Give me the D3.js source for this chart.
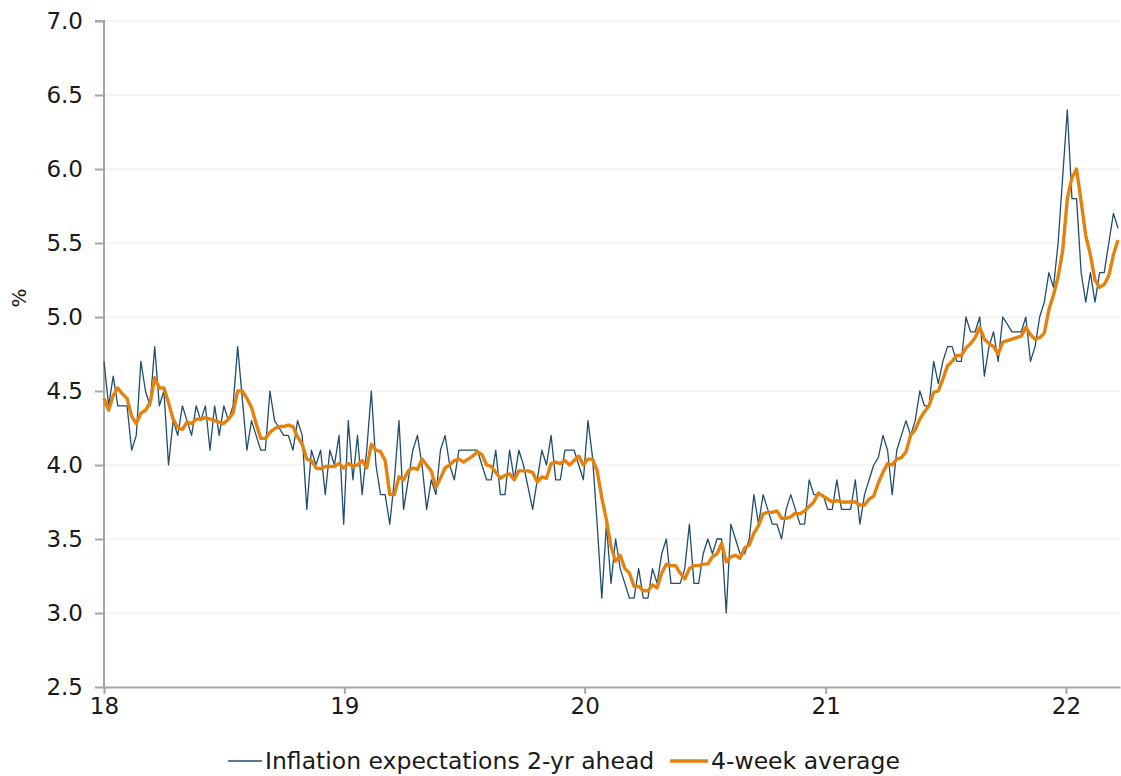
<!DOCTYPE html>
<html>
<head>
<meta charset="utf-8">
<script src="https://cdn.jsdelivr.net/npm/d3@7"></script>
<style>
    body { margin: 0; background: #fff; }
    svg { display: block; }
</style>
</head>
<body>
<script>
// Weekly survey, first week of 2018 onwards
var firstWeek = new Date(2018, 0, 1)

// Inflation expectations 2-yr ahead (%)
var expectations = [
    4.7, 4.4, 4.6, 4.4, 4.4, 4.4, 4.1, 4.2, 4.7, 4.5,
    4.4, 4.8, 4.4, 4.5, 4.0, 4.3, 4.2, 4.4, 4.3, 4.2,
    4.4, 4.3, 4.4, 4.1, 4.4, 4.2, 4.4, 4.3, 4.4, 4.8,
    4.45, 4.1, 4.3, 4.2, 4.1, 4.1, 4.5, 4.3, 4.25, 4.2,
    4.2, 4.1, 4.3, 4.2, 3.7, 4.1, 4.0, 4.1, 3.8, 4.1,
    4.0, 4.2, 3.6, 4.3, 3.9, 4.2, 3.8, 4.1, 4.5, 4.0,
    3.8, 3.8, 3.6, 3.9, 4.3, 3.7, 3.9, 4.1, 4.2, 4.0,
    3.7, 3.9, 3.8, 4.1, 4.2, 4.0, 3.9, 4.1, 4.1, 4.1,
    4.1, 4.1, 4.0, 3.9, 3.9, 4.1, 3.8, 3.8, 4.1, 3.9,
    4.1, 4.0, 3.85, 3.7, 3.9, 4.1, 4.0, 4.2, 3.9, 3.9,
    4.1, 4.1, 4.1, 4.0, 3.9, 4.3, 4.05, 3.6, 3.1, 3.6,
    3.2, 3.5, 3.3, 3.2, 3.1, 3.1, 3.3, 3.1, 3.1, 3.3,
    3.2, 3.4, 3.5, 3.2, 3.2, 3.2, 3.3, 3.6, 3.2, 3.2,
    3.4, 3.5, 3.4, 3.5, 3.5, 3.0, 3.6, 3.5, 3.4, 3.4,
    3.5, 3.8, 3.6, 3.8, 3.7, 3.6, 3.6, 3.5, 3.7, 3.8,
    3.7, 3.6, 3.6, 3.9, 3.8, 3.8, 3.8, 3.7, 3.7, 3.9,
    3.7, 3.7, 3.7, 3.9, 3.6, 3.8, 3.9, 4.0, 4.05, 4.2,
    4.1, 3.8, 4.1, 4.2, 4.3, 4.2, 4.3, 4.5, 4.4, 4.4,
    4.7, 4.55, 4.7, 4.8, 4.8, 4.7, 4.7, 5.0, 4.9, 4.9,
    5.0, 4.6, 4.8, 4.9, 4.7, 5.0, 4.95, 4.9, 4.9, 4.9,
    5.0, 4.7, 4.8, 5.0, 5.1, 5.3, 5.2, 5.5, 5.95, 6.4,
    5.8, 5.8, 5.3, 5.1, 5.3, 5.1, 5.3, 5.3, 5.5, 5.7,
    5.6
]

// 4-week average (%)
var average4w = [
    4.45, 4.37, 4.47, 4.52, 4.48, 4.45, 4.33, 4.28, 4.35, 4.37,
    4.42, 4.59, 4.52, 4.52, 4.42, 4.31, 4.25, 4.24, 4.29, 4.28,
    4.31, 4.31, 4.32, 4.31, 4.30, 4.29, 4.28, 4.31, 4.35, 4.50,
    4.50, 4.45, 4.39, 4.28, 4.18, 4.18, 4.22, 4.245, 4.26, 4.26,
    4.27, 4.26, 4.19, 4.14, 4.04, 4.03, 3.98, 3.975, 3.99, 3.99,
    3.99, 4.01, 3.98, 4.01, 3.99, 4.0, 4.03, 3.98, 4.14, 4.10,
    4.09, 4.03, 3.80, 3.80, 3.92, 3.90, 3.96, 3.98, 3.97, 4.04,
    4.0, 3.96, 3.85, 3.91, 3.98, 4.0, 4.03, 4.04, 4.02, 4.04,
    4.06, 4.09, 4.07, 4.00, 3.99, 3.95, 3.91, 3.93, 3.94, 3.90,
    3.96, 3.96, 3.96, 3.95, 3.885, 3.92, 3.91, 4.01, 4.02, 4.01,
    4.03, 4.0, 4.03, 4.06, 4.0, 4.04, 4.04, 3.96, 3.78, 3.63,
    3.45, 3.35, 3.39, 3.30, 3.27, 3.18, 3.18, 3.15, 3.15, 3.19,
    3.17, 3.27, 3.33, 3.32, 3.32, 3.27, 3.23, 3.30, 3.32, 3.32,
    3.33, 3.33, 3.38, 3.40, 3.47, 3.345, 3.38, 3.39, 3.37, 3.44,
    3.46, 3.54, 3.59, 3.67, 3.68, 3.68, 3.69, 3.64, 3.64, 3.65,
    3.675, 3.67, 3.69, 3.72, 3.75, 3.81, 3.79, 3.77, 3.75, 3.76,
    3.75, 3.75, 3.75, 3.75, 3.73, 3.73, 3.77, 3.79, 3.88, 3.95,
    4.01, 4.0, 4.04, 4.05, 4.09, 4.20, 4.24, 4.31, 4.36, 4.40,
    4.49, 4.50, 4.58, 4.67, 4.70, 4.74, 4.74, 4.79, 4.82, 4.86,
    4.93, 4.85, 4.82, 4.80, 4.75, 4.83, 4.84, 4.85, 4.86, 4.87,
    4.93, 4.88, 4.85, 4.86, 4.89, 5.05, 5.15, 5.27, 5.45, 5.80,
    5.94, 6.00, 5.78, 5.55, 5.42, 5.25, 5.20, 5.22, 5.28, 5.42,
    5.52
]

var yTicks = [2.5, 3.0, 3.5, 4.0, 4.5, 5.0, 5.5, 6.0, 6.5, 7.0]
var yearTicks = [2018, 2019, 2020, 2021, 2022]
var seriesNames = ['Inflation expectations 2-yr ahead', '4-week average']

// Couleurs et dimensions
var colours = {
    line: '#1f4e6e',
    avg: '#e5820e',
    axis: '#a6a6a6',
    grid: '#ececec',
    text: '#1a1a1a'
}
var width = 1121
var height = 776
var margin = { top: 21, right: 1, bottom: 89, left: 104 }
var fontFamily = '"DejaVu Sans", Verdana, sans-serif'

var dates = expectations.map((d, i) => d3.timeDay.offset(firstWeek, 7 * i))

var x = d3.scaleTime()
    .domain([firstWeek, new Date(2022, 2, 24)])
    .range([margin.left, width - margin.right])

var y = d3.scaleLinear()
    .domain([2.5, 7.0])
    .range([height - margin.bottom, margin.top])

var svg = d3.select('body').append('svg')
    .attr('width', width)
    .attr('height', height)

// gridlines
svg.append('g')
    .selectAll('line')
    .data(yTicks.slice(1))
    .join('line')
    .attr('x1', margin.left)
    .attr('x2', width - margin.right)
    .attr('y1', d => y(d))
    .attr('y2', d => y(d))
    .attr('stroke', colours.grid)
    .attr('stroke-width', 1)

// axes
var yAxis = svg.append('g')
    .attr('transform', `translate(${margin.left},0)`)
    .call(d3.axisLeft(y).tickValues(yTicks).tickFormat(d3.format('.1f')).tickSize(9).tickPadding(12))

var xAxis = svg.append('g')
    .attr('transform', `translate(0,${height - margin.bottom})`)
    .call(d3.axisBottom(x)
        .tickValues(yearTicks.map(yr => new Date(yr, 0, 1)))
        .tickFormat(d3.timeFormat('%y'))
        .tickSize(7)
        .tickSizeOuter(0)
        .tickPadding(4))

svg.selectAll('.domain, .tick line')
    .attr('stroke', colours.axis)
    .attr('stroke-width', 2)
svg.selectAll('.tick text')
    .attr('fill', colours.text)
    .attr('font-family', fontFamily)
    .attr('font-size', '23px')
yAxis.select('.domain').attr('d', `M-9,${y(7.0)}H0V${y(2.5)}`)

// lines
var line = d3.line()
    .x((d, i) => x(dates[i]))
    .y(d => y(d))

svg.append('path')
    .datum(expectations)
    .attr('d', line)
    .attr('fill', 'none')
    .attr('stroke', colours.line)
    .attr('stroke-width', 1.3)
    .attr('stroke-linejoin', 'round')

svg.append('path')
    .datum(average4w)
    .attr('d', line)
    .attr('fill', 'none')
    .attr('stroke', colours.avg)
    .attr('stroke-width', 3.4)
    .attr('stroke-linejoin', 'round')

// y title
svg.append('text')
    .attr('transform', 'translate(26,298) rotate(-90)')
    .attr('text-anchor', 'middle')
    .attr('font-family', fontFamily)
    .attr('font-size', '20px')
    .attr('fill', colours.text)
    .text('%')

// legend
var legendItems = [
    { name: seriesNames[0], colour: colours.line, w: 1.5, x0: 228, x1: 262 },
    { name: seriesNames[1], colour: colours.avg, w: 3.4, x0: 670, x1: 708 }
]
var legend = svg.append('g')
    .selectAll('g')
    .data(legendItems)
    .join('g')

legend.append('line')
    .attr('x1', d => d.x0)
    .attr('x2', d => d.x1)
    .attr('y1', 761)
    .attr('y2', 761)
    .attr('stroke', d => d.colour)
    .attr('stroke-width', d => d.w)

legend.append('text')
    .attr('x', d => d.x1 + 3)
    .attr('y', 769)
    .attr('font-family', fontFamily)
    .attr('font-size', '23.5px')
    .attr('fill', colours.text)
    .text(d => d.name)
</script>
</body>
</html>
